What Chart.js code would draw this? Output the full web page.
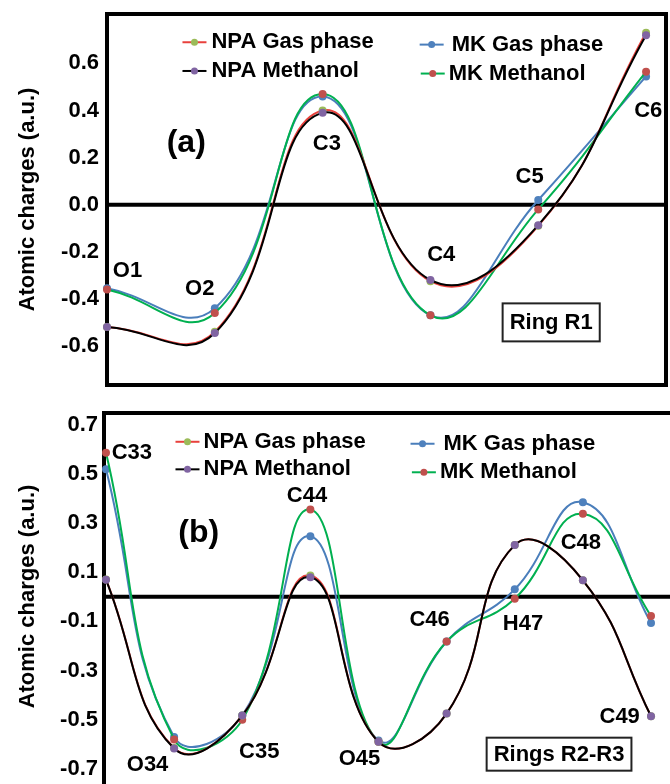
<!DOCTYPE html>
<html>
<head>
<meta charset="utf-8">
<script src="https://cdn.jsdelivr.net/npm/chart.js@4.4.1/dist/chart.umd.min.js"></script>
<style>
  body { margin: 0; background: #fff; }
  #wrap { position: relative; width: 670px; height: 784px; overflow: hidden; }
  canvas { position: absolute; left: 0; }
</style>
</head>
<body>
<div id="wrap">
  <canvas id="chartA" width="670" height="392" style="top:0"></canvas>
  <canvas id="chartB" width="670" height="392" style="top:392px"></canvas>
</div>
<script>
'use strict';

// ---- panel (a) : Ring R1 ----
var atomsA = ['O1', 'O2', 'C3', 'C4', 'C5', 'C6'];
var npaGasA = [-0.52, -0.54, 0.40, -0.325, -0.09, 0.73];
var npaMethA = [-0.52, -0.545, 0.39, -0.32, -0.087, 0.72];
var mkGasA = [-0.355, -0.44, 0.46, -0.47, 0.02, 0.545];
var mkMethA = [-0.36, -0.46, 0.47, -0.47, -0.02, 0.565];
var ticksA = [-0.6, -0.4, -0.2, 0.0, 0.2, 0.4, 0.6];

// ---- panel (b) : Rings R2-R3 ----
var atomsB = ['C33', 'O34', 'C35', 'C44', 'O45', 'C46', 'H47', 'C48', 'C49'];
var npaGasB = [0.07, -0.615, -0.483, 0.086, -0.59, -0.475, 0.21, 0.067, -0.486];
var npaMethB = [0.069, -0.617, -0.483, 0.079, -0.59, -0.475, 0.21, 0.067, -0.486];
var mkGasB = [0.518, -0.57, -0.483, 0.246, -0.584, -0.182, 0.03, 0.384, -0.107];
var mkMethB = [0.585, -0.58, -0.50, 0.355, -0.59, -0.182, -0.008, 0.337, -0.078];
var ticksB = [-0.7, -0.5, -0.3, -0.1, 0.1, 0.3, 0.5, 0.7];

var seriesNames = ['NPA Gas phase', 'NPA Methanol', 'MK Gas phase', 'MK Methanol'];
var lineColors = ['#e8413c', '#000000', '#4a7ebb', '#00b050'];
var dotColors = ['#9bbb59', '#8064a2', '#4f81bd', '#c0504d'];

Chart.defaults.font.family = "'Liberation Sans', Arial, sans-serif";
Chart.defaults.font.weight = 'bold';
Chart.defaults.font.size = 22;
Chart.defaults.color = '#000';

function toPts(vals) {
    return vals.map(function (v, i) { return { x: i, y: v }; });
}

// draws frame, zero line, atom labels, panel letter, box label and legend
var decorPlugin = {
    id: 'decor',
    beforeDatasetsDraw: function (chart) {
        var o = chart.options.plugins.decor;
        var ctx = chart.ctx, ca = chart.chartArea;
        var ys = chart.scales.y;
        ctx.save();
        ctx.strokeStyle = '#000';
        ctx.lineWidth = 4;
        ctx.beginPath();
        var l = ca.left - o.frameShift;
        if (o.fullFrame) {
            ctx.rect(l, ca.top, ca.right - l, ca.bottom - ca.top);
        } else {
            ctx.moveTo(l, chart.height);
            ctx.lineTo(l, ca.top);
            ctx.lineTo(chart.width, ca.top);
        }
        ctx.stroke();
        var y0 = ys.getPixelForValue(0);
        ctx.beginPath();
        ctx.moveTo(l, y0);
        ctx.lineTo(o.fullFrame ? ca.right : chart.width, y0);
        ctx.stroke();
        ctx.restore();
    },
    afterDraw: function (chart) {
        var o = chart.options.plugins.decor;
        var ctx = chart.ctx;
        var xs = chart.scales.x, ys = chart.scales.y;
        ctx.save();
        ctx.fillStyle = '#000';
        ctx.textBaseline = 'middle';
        ctx.font = "bold 22px 'Liberation Sans', Arial, sans-serif";
        ctx.textAlign = 'center';
        o.labels.forEach(function (lb, i) {
            ctx.fillText(o.atoms[i], xs.getPixelForValue(lb[0]), ys.getPixelForValue(lb[1]));
        });

        // boxed ring label
        var bx = xs.getPixelForValue(o.box.x), by = ys.getPixelForValue(o.box.y);
        var tw = ctx.measureText(o.box.text).width;
        ctx.fillText(o.box.text, bx, by + 1);
        ctx.strokeStyle = '#222';
        ctx.lineWidth = 2;
        ctx.strokeRect(bx - tw / 2 - 7, by - o.box.h / 2, tw + 14, o.box.h);

        // legend
        ctx.textAlign = 'left';
        o.legend.forEach(function (lg, i) {
            var px = xs.getPixelForValue(lg[0]), py = ys.getPixelForValue(lg[1]);
            ctx.strokeStyle = lineColors[i];
            ctx.lineWidth = 2;
            ctx.beginPath();
            ctx.moveTo(px, py);
            ctx.lineTo(px + 24, py);
            ctx.stroke();
            ctx.fillStyle = dotColors[i];
            ctx.beginPath();
            ctx.arc(px + 12, py, 3.5, 0, Math.PI * 2);
            ctx.fill();
            ctx.fillStyle = '#000';
            ctx.fillText(seriesNames[i], px + lg[2], py);
        });

        ctx.textAlign = 'center';
        ctx.font = "bold 32px 'Liberation Sans', Arial, sans-serif";
        ctx.fillText(o.panel.text, xs.getPixelForValue(o.panel.x), ys.getPixelForValue(o.panel.y));
        ctx.restore();
    }
};

function makeChart(id, series, ticks, xMax, yMin, yMax, pad, axisW, decor) {
    // draw order: first dataset ends on top
    var order = [1, 0, 3, 2];
    var datasets = order.map(function (k) {
        return {
            label: seriesNames[k],
            data: toPts(series[k]),
            borderColor: lineColors[k],
            borderWidth: 2,
            pointRadius: 4,
            pointBorderWidth: 0,
            pointBackgroundColor: dotColors[k],
            pointBorderColor: dotColors[k],
            tension: 0.45,
            fill: false,
            clip: false
        };
    });
    var ctx = document.getElementById(id).getContext('2d');
    return new Chart(ctx, {
        type: 'line',
        data: { datasets: datasets },
        options: {
            responsive: false,
            animation: false,
            devicePixelRatio: 1,
            layout: { padding: pad },
            plugins: {
                legend: { display: false },
                tooltip: { enabled: false },
                decor: decor
            },
            scales: {
                x: { type: 'linear', min: 0, max: xMax, display: false },
                y: {
                    min: yMin,
                    max: yMax,
                    grid: { display: false, drawTicks: false },
                    border: { display: false },
                    afterFit: function (s) {
                        s.width = axisW;
                        s.paddingTop = 0;
                        s.paddingBottom = 0;
                    },
                    afterBuildTicks: function (s) {
                        s.ticks = ticks.map(function (v) { return { value: v }; });
                    },
                    ticks: {
                        padding: 8,
                        callback: function (v) { return v.toFixed(1); }
                    },
                    title: {
                        display: true,
                        text: 'Atomic charges (a.u.)',
                        padding: { top: 15, bottom: 0 }
                    }
                }
            }
        },
        plugins: [decorPlugin]
    });
}

makeChart('chartA', [npaGasA, npaMethA, mkGasA, mkMethA], ticksA, 5.185, -0.766, 0.81,
    { top: 14, bottom: 7, left: 0, right: 2 }, 107, {
        fullFrame: true,
        frameShift: 0,
        atoms: atomsA,
        labels: [[0.19, -0.281], [0.86, -0.357], [2.04, 0.26], [3.10, -0.213], [3.92, 0.119], [5.02, 0.40]],
        box: { text: 'Ring R1', x: 4.12, y: -0.50, h: 38 },
        panel: { text: '(a)', x: 0.735, y: 0.26 },
        legend: [[0.70, 0.69, 29], [0.70, 0.568, 29], [2.90, 0.68, 32], [2.91, 0.557, 28]]
    });

makeChart('chartB', [npaGasB, npaMethB, mkGasB, mkMethB], ticksB, 8.22, -0.745, 0.747,
    { top: 21, bottom: 0, left: 0, right: 2 }, 106, {
        fullFrame: false,
        frameShift: 2,
        atoms: atomsB,
        labels: [[0.38, 0.586], [0.61, -0.683], [2.25, -0.63], [2.95, 0.41], [3.72, -0.659],
                 [4.75, -0.096], [6.12, -0.112], [6.97, 0.217], [7.54, -0.49]],
        box: { text: 'Rings R2-R3', x: 6.65, y: -0.64, h: 33 },
        panel: { text: '(b)', x: 1.36, y: 0.257 },
        legend: [[1.02, 0.63, 28], [1.02, 0.518, 28], [4.47, 0.622, 33], [4.49, 0.506, 28]]
    });
</script>
</body>
</html>
